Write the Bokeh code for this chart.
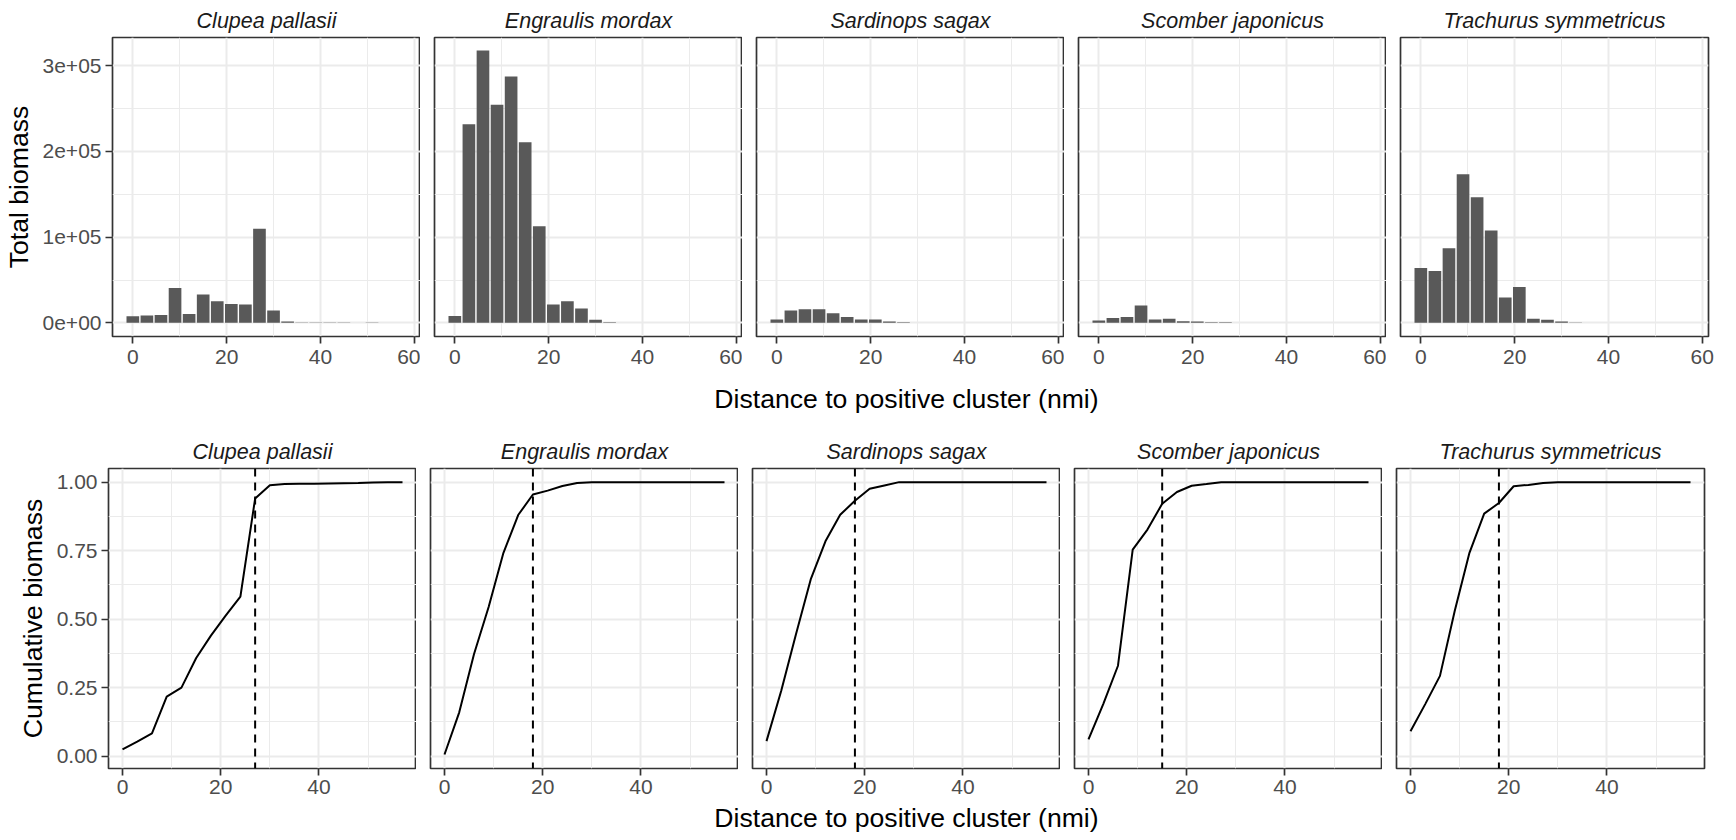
from bokeh.plotting import figure
from bokeh.layouts import column, row
from bokeh.models import Range1d, FixedTicker, Span
from bokeh.core.properties import value
from bokeh.embed import file_html
from bokeh.resources import INLINE

# ---------------- data ----------------
species = ["Clupea pallasii", "Engraulis mordax", "Sardinops sagax",
           "Scomber japonicus", "Trachurus symmetricus"]

distance = [0, 3, 6, 9, 12, 15, 18, 21, 24, 27, 30, 33, 36, 39, 42, 45, 48, 51, 54, 57]

biomass_clupea = [7750, 8500, 9300, 40700, 10500, 33000, 25200, 22100, 21300, 109700,
                  14300, 1500, 500, 300, 300, 300, 0, 300, 0, 0]
biomass_engraulis = [8100, 231800, 317800, 254600, 287600, 210900, 112800, 21300, 25200, 16700,
                     3500, 800, 0, 0, 0, 0, 0, 0, 0, 0]
biomass_sardinops = [3900, 14300, 15900, 15900, 11200, 7000, 3900, 3900, 1500, 800,
                     0, 0, 0, 0, 0, 0, 0, 0, 0, 0]
biomass_scomber = [2700, 5800, 7000, 20200, 3900, 4700, 1900, 1500, 800, 800,
                   0, 0, 0, 0, 0, 0, 0, 0, 0, 0]
biomass_trachurus = [64000, 60500, 87200, 173300, 146500, 107800, 29500, 41900, 4700, 3500,
                     1500, 400, 0, 0, 0, 0, 0, 0, 0, 0]

cum_clupea = [0.025, 0.053, 0.083, 0.217, 0.250, 0.358, 0.440, 0.513, 0.582, 0.940,
              0.989, 0.993, 0.994, 0.994, 0.995, 0.996, 0.997, 0.999, 1.0, 1.0]
cum_engraulis = [0.006, 0.160, 0.372, 0.545, 0.742, 0.880, 0.955, 0.969, 0.986, 0.997,
                 0.9995, 1.0, 1.0, 1.0, 1.0, 1.0, 1.0, 1.0, 1.0, 1.0]
cum_sardinops = [0.055, 0.239, 0.445, 0.645, 0.784, 0.881, 0.932, 0.976, 0.988, 1.0,
                 1.0, 1.0, 1.0, 1.0, 1.0, 1.0, 1.0, 1.0, 1.0, 1.0]
cum_scomber = [0.061, 0.190, 0.330, 0.754, 0.827, 0.921, 0.964, 0.987, 0.993, 1.0,
               1.0, 1.0, 1.0, 1.0, 1.0, 1.0, 1.0, 1.0, 1.0, 1.0]
cum_trachurus = [0.091, 0.190, 0.293, 0.530, 0.742, 0.885, 0.924, 0.985, 0.990, 0.997,
                 1.0, 1.0, 1.0, 1.0, 1.0, 1.0, 1.0, 1.0, 1.0, 1.0]

cutoff = [27, 18, 18, 15, 18]

biomass = [biomass_clupea, biomass_engraulis, biomass_sardinops, biomass_scomber, biomass_trachurus]
cumulative = [cum_clupea, cum_engraulis, cum_sardinops, cum_scomber, cum_trachurus]

top_x_ticks = [0, 20, 40, 60]
top_x_minor = [10, 30, 50]
top_y_ticks = [0, 100000, 200000, 300000]
top_y_minor = [50000, 150000, 250000]
top_y_labels = ["0e+00", "1e+05", "2e+05", "3e+05"]

bot_x_ticks = [0, 20, 40]
bot_x_minor = [10, 30, 50]
bot_y_ticks = [0, 0.25, 0.5, 0.75, 1.0]
bot_y_minor = [0.125, 0.375, 0.625, 0.875]
bot_y_labels = ["0.00", "0.25", "0.50", "0.75", "1.00"]

x_title = "Distance to positive cluster (nmi)"
y_title_top = "Total biomass"
y_title_bot = "Cumulative biomass"

# ---------------- style ----------------
FONT = "Liberation Sans"
GRID = "#EBEBEB"
BORDER = "#333333"
TICKTXT = "#4D4D4D"
BAR = "#595959"
FW = 308
GAP = 14
LEFT = 108
RIGHT = 6


def make_panel(i, title, xr, yr, fh, xt, xm, yt, ym, ylabels, ytitle,
               top_border, bottom_border, xstand):
    first = (i == 0)
    last = (i == 4)
    p = figure(frame_width=FW, frame_height=fh, x_range=xr, y_range=yr,
               output_backend="svg", toolbar_location=None,
               min_border_left=LEFT if first else GAP,
               min_border_right=RIGHT if last else 0,
               min_border_top=top_border, min_border_bottom=bottom_border)
    p.background_fill_color = "white"
    p.border_fill_color = "white"
    p.outline_line_color = BORDER
    p.outline_line_width = 1.7
    p.title.text = title
    p.title.align = "center"
    p.title.text_font = FONT
    p.title.text_font_style = "italic"
    p.title.text_font_size = "21.5px"
    p.title.text_color = "#1A1A1A"
    p.title.standoff = 10

    p.xaxis.ticker = FixedTicker(ticks=xt, minor_ticks=xm)
    p.yaxis.ticker = FixedTicker(ticks=yt, minor_ticks=ym)
    p.xgrid.ticker = FixedTicker(ticks=xt, minor_ticks=xm)
    p.ygrid.ticker = FixedTicker(ticks=yt, minor_ticks=ym)
    for g in (p.xgrid, p.ygrid):
        g.grid_line_color = GRID
        g.grid_line_width = 2
        g.minor_grid_line_color = GRID
        g.minor_grid_line_width = 1

    for ax in (p.xaxis, p.yaxis):
        ax.axis_line_color = None
        ax.major_tick_line_color = BORDER
        ax.major_tick_line_width = 1.7
        ax.major_tick_out = 7
        ax.major_tick_in = 0
        ax.minor_tick_line_color = None
        ax.major_label_text_font = FONT
        ax.major_label_text_font_size = "21px"
        ax.major_label_text_color = TICKTXT
        ax.major_label_standoff = 4
        ax.axis_label_text_font = FONT
        ax.axis_label_text_font_size = "26.6px"
        ax.axis_label_text_font_style = "normal"
        ax.axis_label_text_color = "black"
    p.xaxis.major_label_standoff = xstand

    p.yaxis.major_label_overrides = {t: l for t, l in zip(yt, ylabels)}
    p.yaxis.axis_label_standoff = 6
    if first:
        p.yaxis.axis_label = ytitle
    else:
        p.yaxis.visible = False
    return p


def title_strip(text, h, center_from_top):
    fw = 5 * FW + 4 * GAP
    f = figure(frame_width=fw, frame_height=h, x_range=Range1d(0, 1), y_range=Range1d(0, h),
               output_backend="svg", toolbar_location=None,
               min_border_left=LEFT, min_border_right=RIGHT,
               min_border_top=0, min_border_bottom=0)
    f.axis.visible = False
    f.grid.visible = False
    f.outline_line_color = None
    f.background_fill_color = "white"
    f.border_fill_color = "white"
    f.text(x=[0.5], y=[h - center_from_top], text=[text], text_align="center",
           text_baseline="middle", text_font=value(FONT), text_font_size="26.6px",
           text_color="black")
    return f


top_row = []
bot_row = []
for i, sp in enumerate(species):
    pt = make_panel(i, sp, Range1d(-4.335, 61.335), Range1d(-15900, 333000), 299,
                    top_x_ticks, top_x_minor, top_y_ticks, top_y_minor, top_y_labels,
                    y_title_top, 37, 40, 6)
    pt.vbar(x=distance, top=biomass[i], width=2.7, bottom=0,
            fill_color=BAR, line_color=None)
    top_row.append(pt)

    pb = make_panel(i, sp, Range1d(-2.85, 59.85), Range1d(-0.045, 1.0498), 300,
                    bot_x_ticks, bot_x_minor, bot_y_ticks, bot_y_minor, bot_y_labels,
                    y_title_bot, 50, 35, 4)
    pb.line(x=distance, y=cumulative[i], line_color="black", line_width=2)
    pb.add_layout(Span(location=cutoff[i], dimension="height", line_color="black",
                       line_width=2, line_dash="8 6"))
    bot_row.append(pb)

layout = column(row(*top_row), title_strip(x_title, 42, 22),
                row(*bot_row), title_strip(x_title, 31, 14))
open("out.html", "w").write(file_html(layout, INLINE))
